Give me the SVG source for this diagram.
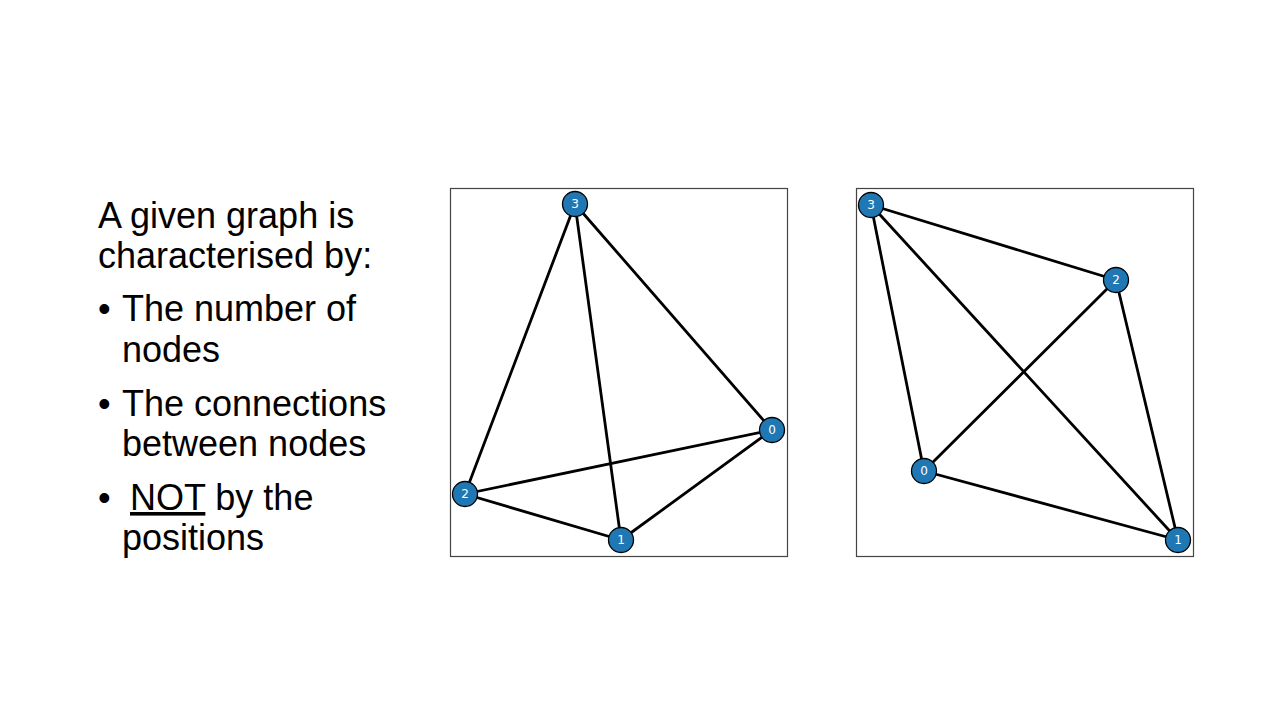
<svg xmlns="http://www.w3.org/2000/svg" width="1280" height="720" viewBox="0 0 1280 720">
<style>
.t{font-family:"Liberation Sans",Arial,sans-serif;font-size:36px;fill:#000}
.frame{fill:none;stroke:#444;stroke-width:1.2}
.e line{stroke:#000;stroke-width:2.8;stroke-linecap:round}
.n circle{fill:#1f77b4;stroke:#000;stroke-width:1.3}
.n text{font-family:"DejaVu Sans",sans-serif;font-size:12px;fill:#fff;text-anchor:middle;dominant-baseline:central}
</style>
<rect width="1280" height="720" fill="#fff"/>
<g id="text">
<text class="t" x="98" y="228">A given graph is</text>
<text class="t" x="98" y="268">characterised by:</text>
<text class="t" x="98" y="321">•</text>
<text class="t" x="122" y="321">The number of</text>
<text class="t" x="122" y="362">nodes</text>
<text class="t" x="98" y="416">•</text>
<text class="t" x="122" y="416">The connections</text>
<text class="t" x="122" y="456">between nodes</text>
<text class="t" x="98" y="510">•</text>
<text class="t" x="130" y="510"><tspan text-decoration="underline">NOT</tspan> by the</text>
<text class="t" x="122" y="550">positions</text>
</g>
<rect class="frame" x="450.5" y="188.5" width="337" height="368"/>
<rect class="frame" x="856.5" y="188.5" width="337" height="368"/>
<g id="connectors-left" class="e">
<line x1="575" y1="204" x2="465" y2="494"/>
<line x1="575" y1="204" x2="621" y2="540"/>
<line x1="575" y1="204" x2="772" y2="430"/>
<line x1="465" y1="494" x2="772" y2="430"/>
<line x1="465" y1="494" x2="621" y2="540"/>
<line x1="621" y1="540" x2="772" y2="430"/>
</g>
<g id="connectors-right" class="e">
<line x1="871" y1="205" x2="1116" y2="280"/>
<line x1="871" y1="205" x2="924" y2="471"/>
<line x1="871" y1="205" x2="1178" y2="540"/>
<line x1="1116" y1="280" x2="924" y2="471"/>
<line x1="1116" y1="280" x2="1178" y2="540"/>
<line x1="924" y1="471" x2="1178" y2="540"/>
</g>
<g id="L3" class="n"><circle cx="575" cy="204" r="12.5"/><text x="575" y="204">3</text></g>
<g id="L0" class="n"><circle cx="772" cy="430" r="12.5"/><text x="772" y="430">0</text></g>
<g id="L2" class="n"><circle cx="465" cy="494" r="12.5"/><text x="465" y="494">2</text></g>
<g id="L1" class="n"><circle cx="621" cy="540" r="12.5"/><text x="621" y="540">1</text></g>
<g id="R3" class="n"><circle cx="871" cy="205" r="12.5"/><text x="871" y="205">3</text></g>
<g id="R2" class="n"><circle cx="1116" cy="280" r="12.5"/><text x="1116" y="280">2</text></g>
<g id="R0" class="n"><circle cx="924" cy="471" r="12.5"/><text x="924" y="471">0</text></g>
<g id="R1" class="n"><circle cx="1178" cy="540" r="12.5"/><text x="1178" y="540">1</text></g>
</svg>
